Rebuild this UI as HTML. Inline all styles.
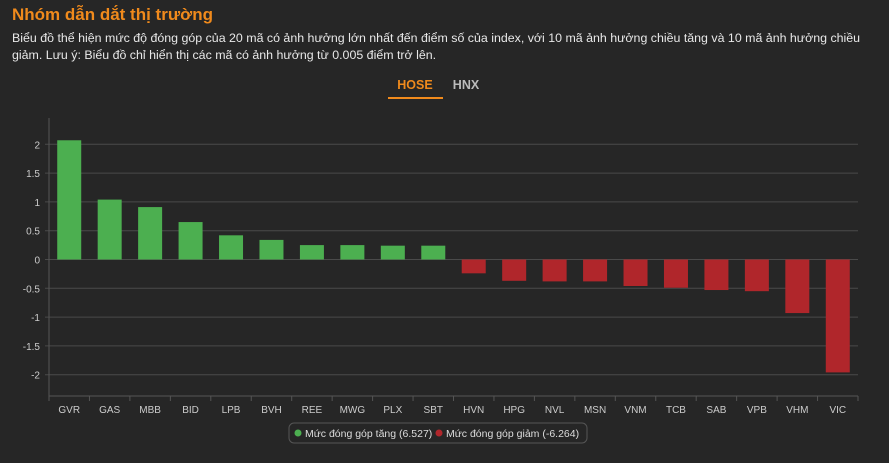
<!DOCTYPE html>
<html><head><meta charset="utf-8"><style>
body{margin:0;width:889px;height:463px;background:#262626;font-family:"Liberation Sans",sans-serif;overflow:hidden}
h1{position:absolute;left:12px;top:5px;margin:0;font-size:17px;color:#f08a1c;font-weight:bold}
p{position:absolute;left:12px;top:30px;margin:0;width:855px;font-size:12.4px;line-height:17px;color:#e8e8e8}
</style></head><body>
<h1>Nhóm dẫn dắt thị trường</h1>
<p>Biểu đồ thể hiện mức độ đóng góp của 20 mã có ảnh hưởng lớn nhất đến điểm số của index, với 10 mã ảnh hưởng chiều tăng và 10 mã ảnh hưởng chiều giảm. Lưu ý: Biểu đồ chỉ hiển thị các mã có ảnh hưởng từ 0.005 điểm trở lên.</p>
<svg id="s" width="889" height="463" style="position:absolute;left:0;top:0" font-family="Liberation Sans, sans-serif">
<text x="415" y="89" fill="#f08a1c" font-size="12.5" font-weight="bold" text-anchor="middle">HOSE</text>
<rect x="388" y="97" width="55" height="2" fill="#f08a1c"/>
<text x="466" y="89" fill="#bbb" font-size="12.5" font-weight="bold" text-anchor="middle">HNX</text>
<rect x="289" y="423" width="298" height="20" rx="5" fill="none" stroke="#555"/>
<circle cx="298" cy="433" r="3.5" fill="#4caf50"/>
<text x="305" y="437" fill="#ddd" font-size="10.5">Mức đóng góp tăng (6.527)</text>
<circle cx="439" cy="433" r="3.5" fill="#b0262b"/>
<text x="446" y="437" fill="#ddd" font-size="10.5">Mức đóng góp giảm (-6.264)</text>
</svg>
<script>
var s=document.getElementById('s'),h='';
var z=259.5,k=57.6,L=49,R=858;
for(var v=-2;v<=2;v+=0.5){var y=z-v*k;h+='<line x1="'+(L-4)+'" x2="'+R+'" y1="'+y+'" y2="'+y+'" stroke="#4a4a4a"/>';
h+='<text x="40" y="'+(y+4)+'" fill="#ccc" font-size="10" text-anchor="end">'+v+'</text>';}
h+='<line x1="'+L+'" x2="'+L+'" y1="118" y2="396" stroke="#555"/><line x1="'+L+'" x2="'+R+'" y1="396" y2="396" stroke="#555"/>';
var d=[["GVR",2.07],["GAS",1.04],["MBB",0.91],["BID",0.65],["LPB",0.42],["BVH",0.34],["REE",0.25],["MWG",0.25],["PLX",0.24],["SBT",0.24],["HVN",-0.24],["HPG",-0.37],["NVL",-0.38],["MSN",-0.38],["VNM",-0.46],["TCB",-0.49],["SAB",-0.53],["VPB",-0.55],["VHM",-0.93],["VIC",-1.96]];
var w=(R-L)/20;
for(var i=0;i<20;i++){var c=L+w*(i+0.5),v=d[i][1],y=v>0?z-v*k:z,hh=Math.abs(v)*k;
h+='<rect x="'+(c-12)+'" y="'+y+'" width="24" height="'+hh+'" fill="'+(v>0?'#4caf50':'#b0262b')+'"/>';
h+='<line x1="'+(L+w*i)+'" x2="'+(L+w*i)+'" y1="396" y2="401" stroke="#555"/>';
h+='<text x="'+c+'" y="413" fill="#ccc" font-size="10" text-anchor="middle">'+d[i][0]+'</text>';}
h+='<line x1="'+R+'" x2="'+R+'" y1="396" y2="401" stroke="#555"/>';
s.insertAdjacentHTML('afterbegin',h);
</script>
</body></html>
